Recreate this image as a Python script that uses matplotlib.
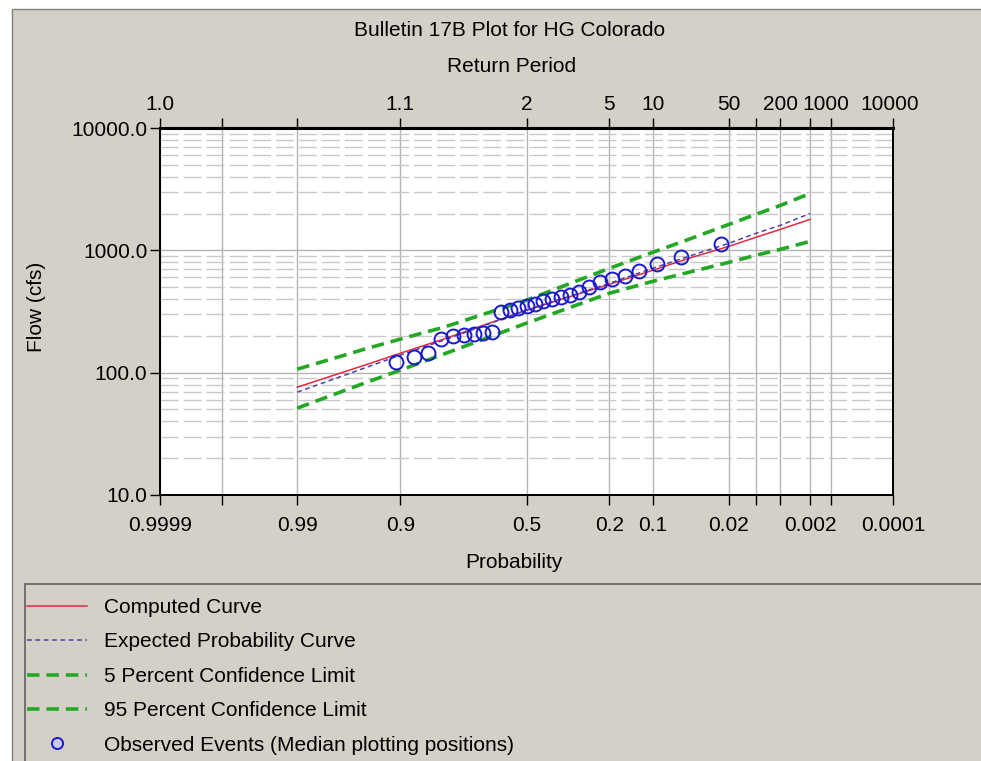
import numpy as np
import matplotlib
matplotlib.use("Agg")
import matplotlib.pyplot as plt
import matplotlib.transforms as mtransforms
from matplotlib.patches import Rectangle
from matplotlib.ticker import LogLocator, FixedLocator, NullFormatter
from statistics import NormalDist

plt.rcParams['font.family'] = ['Liberation Sans', 'DejaVu Sans']
plt.rcParams['lines.scale_dashes'] = False
FS = 15

# frequency curve ordinates (exceedance probability -> flow, cfs)
curve_prob = [0.99, 0.95, 0.9, 0.8, 0.5, 0.2, 0.1, 0.05, 0.02, 0.01, 0.005, 0.002]
computed = [76.1, 115, 144, 188, 324, 528, 687, 860, 1078, 1277, 1484, 1791]
expected = [69.3, 109, 139, 184, 324, 538, 713, 893, 1141, 1376, 1600, 2004]
conf_05 = [106.8, 155.5, 188, 235, 391, 713, 963, 1229, 1630, 1967, 2329, 2919]
conf_95 = [51.3, 82.1, 104.8, 141.6, 254, 446, 558, 661, 798, 910, 1019, 1184]

# observed annual peaks at median plotting positions
obs_prob = [0.024, 0.058, 0.092, 0.126, 0.160, 0.194, 0.228, 0.262, 0.296,
            0.330, 0.364, 0.398, 0.432, 0.466, 0.500, 0.534, 0.568, 0.602,
            0.636, 0.670, 0.704, 0.738, 0.772, 0.806, 0.840, 0.874, 0.908]
obs_flow = [1120, 890, 780, 675, 615, 580, 550, 500, 460,
            435, 415, 400, 385, 365, 350, 335, 325, 315,
            215, 210, 208, 205, 200, 190, 145, 135, 122]

prob_ticks = [0.9999, 0.999, 0.99, 0.9, 0.5, 0.2, 0.1, 0.02, 0.01, 0.005, 0.002, 0.001, 0.0001]
prob_labels = ['0.9999', '', '0.99', '0.9', '0.5', '0.2', '0.1', '0.02', '', '', '0.002', '', '0.0001']
rp_labels = ['1.0', '', '', '1.1', '2', '5', '10', '50', '', '200', '', '1000', '10000']

nd = NormalDist()


def prob_fwd(p):
    p = np.clip(np.asarray(p, dtype=float), 1e-12, 1 - 1e-12)
    return np.vectorize(nd.inv_cdf, otypes=[float])(p)


def prob_inv(z):
    z = np.asarray(z, dtype=float)
    return np.vectorize(nd.cdf, otypes=[float])(z)


W, H = 981, 761
PANEL = '#D4D0C8'
fig = plt.figure(figsize=(W / 100, H / 100), dpi=100, facecolor='white')


def px(x, y):
    return x / W, 1 - y / H


fig.patches.append(Rectangle(px(12, 770), 1, (770 - 9) / H, transform=fig.transFigure,
                             facecolor=PANEL, edgecolor='#808080', lw=1, zorder=-10))

x0, y0 = px(160, 495)
x1, y1 = px(893, 128)
ax = fig.add_axes([x0, y0, x1 - x0, y1 - y0])
ax.set_facecolor('white')

# normal probability scale, exceedance decreasing to the right
ax.set_xscale('function', functions=(prob_fwd, prob_inv))
ax.set_yscale('log')
ax.set_xlim(0.9999, 0.0001)
ax.set_ylim(10, 10000)

ax.plot(curve_prob, computed, color='#E8283E', lw=1.1, label='Computed Curve', zorder=4)
ax.plot(curve_prob, expected, color='#4646A0', lw=1.1, ls=(0, (3.5, 2.5)),
        label='Expected Probability Curve', zorder=4)
ax.plot(curve_prob, conf_05, color='#22A822', lw=2.6, ls=(0, (9, 5)),
        label='5 Percent Confidence Limit', zorder=3)
ax.plot(curve_prob, conf_95, color='#22A822', lw=2.6, ls=(0, (9, 5)),
        label='95 Percent Confidence Limit', zorder=3)
ax.plot(obs_prob, obs_flow, ls='none', marker='o', ms=10, mfc='none', mec='#1A1ACC',
        mew=1.4, label='Observed Events (Median plotting positions)', zorder=5)

# axes, ticks and grid
ax.xaxis.set_major_locator(FixedLocator(prob_ticks))
ax.set_xticklabels(prob_labels)
ax.xaxis.set_minor_locator(FixedLocator([]))
ax.set_yticks([10, 100, 1000, 10000])
ax.set_yticklabels(['10.0', '100.0', '1000.0', '10000.0'])
ax.yaxis.set_minor_locator(LogLocator(base=10, subs=np.arange(2, 10)))
ax.yaxis.set_minor_formatter(NullFormatter())
ax.tick_params(which='major', direction='out', length=7, width=1, labelsize=FS,
               colors='black', pad=2)
ax.tick_params(axis='x', pad=8)
ax.tick_params(which='minor', length=0)
ax.grid(True, which='major', color='#B4B4B4', lw=1, ls='-')
ax.grid(True, which='minor', axis='y', color='#C8C8C8', lw=1, ls=(0, (13, 3.6)))
ax.set_axisbelow(True)
for s in ax.spines.values():
    s.set_color('black')
    s.set_linewidth(1.4)

# return period along the top
top = ax.twiny()
top.set_xscale('function', functions=(prob_fwd, prob_inv))
top.set_xlim(ax.get_xlim())
top.xaxis.set_major_locator(FixedLocator(prob_ticks))
top.set_xticklabels(rp_labels)
top.xaxis.set_minor_locator(FixedLocator([]))
top.tick_params(direction='out', length=7, width=1, labelsize=FS, pad=3)
for s in top.spines.values():
    s.set_linewidth(1.4)
top.spines['top'].set_linewidth(2.2)
# nudge the crowded labels at the right end apart
for idx, dx in ((11, -5), (12, -3)):
    lbl = top.get_xticklabels()[idx]
    off = mtransforms.ScaledTranslation(dx / 100, 0, fig.dpi_scale_trans)
    lbl.set_transform(lbl.get_transform() + off)

fig.text(*px(510, 30), 'Bulletin 17B Plot for HG Colorado', ha='center', va='center', fontsize=FS)
fig.text(*px(512, 67), 'Return Period', ha='center', va='center', fontsize=FS)
fig.text(*px(514, 563), 'Probability', ha='center', va='center', fontsize=FS)
fig.text(*px(36, 307), 'Flow (cfs)', ha='center', va='center', rotation=90, fontsize=FS)

# legend panel
fig.patches.append(Rectangle(px(25, 770), 1, (770 - 584) / H, transform=fig.transFigure,
                             facecolor=PANEL, edgecolor='#606060', lw=1.2, zorder=-5))
handles, labels = ax.get_legend_handles_labels()
leg = fig.legend(handles, labels, loc='upper left', bbox_to_anchor=px(27, 598),
                 frameon=False, fontsize=FS, handlelength=2.9, handletextpad=0.8,
                 labelspacing=0.74, borderaxespad=0, borderpad=0)
leg.legend_handles[-1].set_markerfacecolor('#C8C8F0')
leg.legend_handles[-1].set_markersize(8)

fig.savefig('out.png', dpi=100, facecolor=fig.get_facecolor())
